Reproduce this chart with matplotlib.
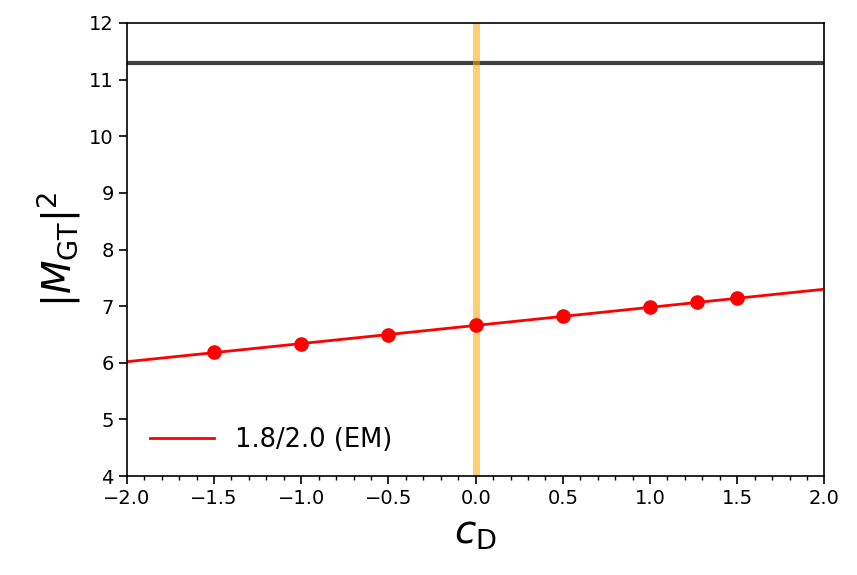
import numpy as np
import matplotlib
matplotlib.use("Agg")
from matplotlib import pyplot as plt
import matplotlib.ticker as ticker

# data
cD = [-1.5, -1.0, -0.5, 0.0, 0.5, 1.0, 1.27, 1.5]
MGT2 = [6.19, 6.34, 6.50, 6.67, 6.83, 6.99, 7.08, 7.15]
fit_x = [-2.0, 2.0]
fit_y = [6.02, 7.30]
exp_val = 11.3
cD_ref = 0.0

def fmt_x(v, pos):
    return ("%.1f" % v).replace("-", "\u2212")

fig = plt.figure(figsize=(8.57, 5.75), dpi=100)
plt.subplots_adjust(left=0.148, bottom=0.172, right=0.962, top=0.960)
ax = fig.add_subplot(111)

ax.axhline(y=exp_val, c="#404040", lw=3)
ax.axvline(x=cD_ref, c="orange", alpha=0.55, lw=5)
ax.plot(fit_x, fit_y, c="red", lw=2, label="1.8/2.0 (EM)")
ax.plot(cD, MGT2, "o", c="red", ms=9.5)

ax.set_xlim(-2.0, 2.0)
ax.set_ylim(4, 12)
ax.xaxis.set_major_locator(ticker.MultipleLocator(0.5))
ax.xaxis.set_minor_locator(ticker.MultipleLocator(0.1))
ax.xaxis.set_major_formatter(ticker.FuncFormatter(fmt_x))
ax.yaxis.set_major_locator(ticker.MultipleLocator(1))
ax.tick_params(labelsize=14, length=6, width=1.2)
ax.tick_params(which="minor", length=3, width=1)
for s in ax.spines.values():
    s.set_linewidth(1.2)

ax.set_xlabel(r"$c_{\rm D}$", fontsize=28)
ax.set_ylabel(r"$|M_{\rm GT}|^2$", fontsize=28)
ax.legend(loc="lower left", frameon=False, fontsize=18.5, handlelength=2.5)

plt.savefig("out.png", dpi=100)
